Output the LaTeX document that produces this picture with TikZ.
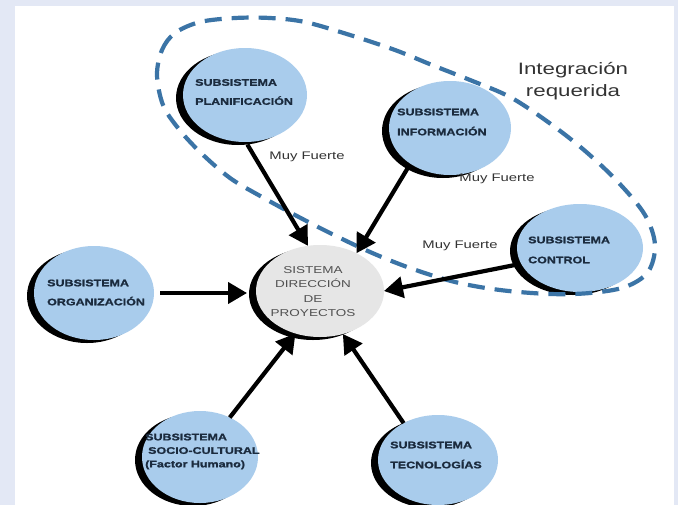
\documentclass[tikz,border=0pt]{standalone}
\usepackage{fontspec}
\setmainfont{Liberation Sans}
\newfontfamily\wide[FakeStretch=1.35]{Liberation Sans}
\newfontfamily\heavy[FakeStretch=1.3, BoldFeatures={FakeBold=1.3}]{Liberation Sans}
\usetikzlibrary{shapes.geometric,arrows.meta,shadows}
\definecolor{bgblue}{HTML}{E3E8F5}
\definecolor{subblue}{HTML}{A9CCEC}
\definecolor{centergrey}{HTML}{E6E6E6}
\definecolor{dashblue}{HTML}{3B74A6}
\definecolor{navy}{HTML}{1B2B3E}
\definecolor{txtgrey}{HTML}{333333}
\definecolor{ctrtxt}{HTML}{505050}
\begin{document}
\begin{tikzpicture}[x=1pt,y=-1pt,
  bubble/.style={ellipse, inner sep=0pt, outer sep=0pt,
    drop shadow={fill=black, opacity=1, shadow xshift=-7pt, shadow yshift=-3pt, shadow scale=1}},
  sub/.style={bubble, fill=subblue},
  lab/.style={inner sep=0pt, anchor=west, align=left, text=navy,
    font=\heavy\bfseries\fontsize{9.6}{19}\selectfont},
  weak/.style={inner sep=0pt, text=txtgrey, font=\wide\fontsize{11}{13}\selectfont},
  arr/.style={line width=4.2pt, black, -{Triangle[length=19pt,width=21pt]}},
  integ/.style={dashblue, line width=4.2pt, dash pattern=on 17pt off 10pt}]
\useasboundingbox (0,0) rectangle (678,504);
\fill[bgblue] (-5,-5) rectangle (683,510);
\fill[white] (15,6) rectangle (674,510);

% bubbles
\node[sub, minimum width=124pt, minimum height=94pt] (plan) at (245,95) {};
\node[sub, minimum width=122pt, minimum height=94pt] (info) at (450,128) {};
\node[sub, minimum width=126pt, minimum height=88pt] (ctrl) at (580,248) {};
\node[sub, minimum width=120pt, minimum height=94pt] (org) at (94,293) {};
\node[bubble, fill=centergrey, minimum width=128pt, minimum height=92pt] (center) at (320,291) {};
\node[sub, minimum width=116pt, minimum height=92pt] (socio) at (200,457) {};
\node[sub, minimum width=120pt, minimum height=90pt] (tec) at (438,460) {};

% integration loop
\draw[integ] plot[smooth cycle, tension=0.55] coordinates {
  (157,75) (162,50) (175,33) (200,22) (235,18) (270,18) (305,22) (350,35)
  (395,50) (432,65) (470,80) (510,97) (548,122) (584,150) (618,182) (645,215)
  (655,245) (648,272) (625,287) (590,293) (550,294) (500,290) (455,282)
  (410,268) (370,252) (330,233) (295,215) (262,197) (230,178) (200,152)
  (178,128) (163,105)};

% labels
\node[lab] (planL) at (195,92) {SUBSISTEMA\\PLANIFICACIÓN};
\node[lab, font=\heavy\bfseries\fontsize{9.6}{20}\selectfont] (infoL) at (397,122) {SUBSISTEMA\\INFORMACIÓN};
\node[lab, font=\heavy\bfseries\fontsize{9.6}{20}\selectfont] (ctrlL) at (528,250) {SUBSISTEMA\\CONTROL};
\node[lab] (orgL) at (47,292.5) {SUBSISTEMA\\ORGANIZACIÓN};
\node[lab, font=\heavy\bfseries\fontsize{9.6}{13.5}\selectfont] (socioL) at (145,451.5) {SUBSISTEMA\\\hspace{3pt}SOCIO-CULTURAL\\(Factor Humano)};
\node[lab, font=\heavy\bfseries\fontsize{9.6}{20}\selectfont] (tecL) at (390,455) {SUBSISTEMA\\TECNOLOGÍAS};
\node[inner sep=0pt, align=center, text=ctrtxt, font=\wide\fontsize{10}{14.5}\selectfont] (centerL) at (313,291.5) {SISTEMA\\DIRECCIÓN\\DE\\PROYECTOS};

\node[weak] (mf1) at (307,157) {Muy Fuerte};
\node[weak] (mf2) at (497,179) {Muy Fuerte};
\node[weak] (mf3) at (460,246) {Muy Fuerte};
\node[inner sep=0pt, align=center, text=txtgrey, font=\wide\fontsize{16.5}{22}\selectfont] (integL) at (573,81) {Integración\\requerida};

% connectors
\draw[arr, shorten <=3pt] (plan.271) -- (center.105);
\draw[arr, shorten <=2pt] (info.222) -- (center.46);
\draw[arr, shorten <=6pt] (ctrl.195) -- (center.east);
\draw[arr, shorten <=6pt, shorten >=9pt] (org.east) -- (org.east -| center.west);
\draw[arr] (socio.53) -- (center.240);
\draw[arr] (tec.133) -- (center.298);
\end{tikzpicture}
\end{document}
